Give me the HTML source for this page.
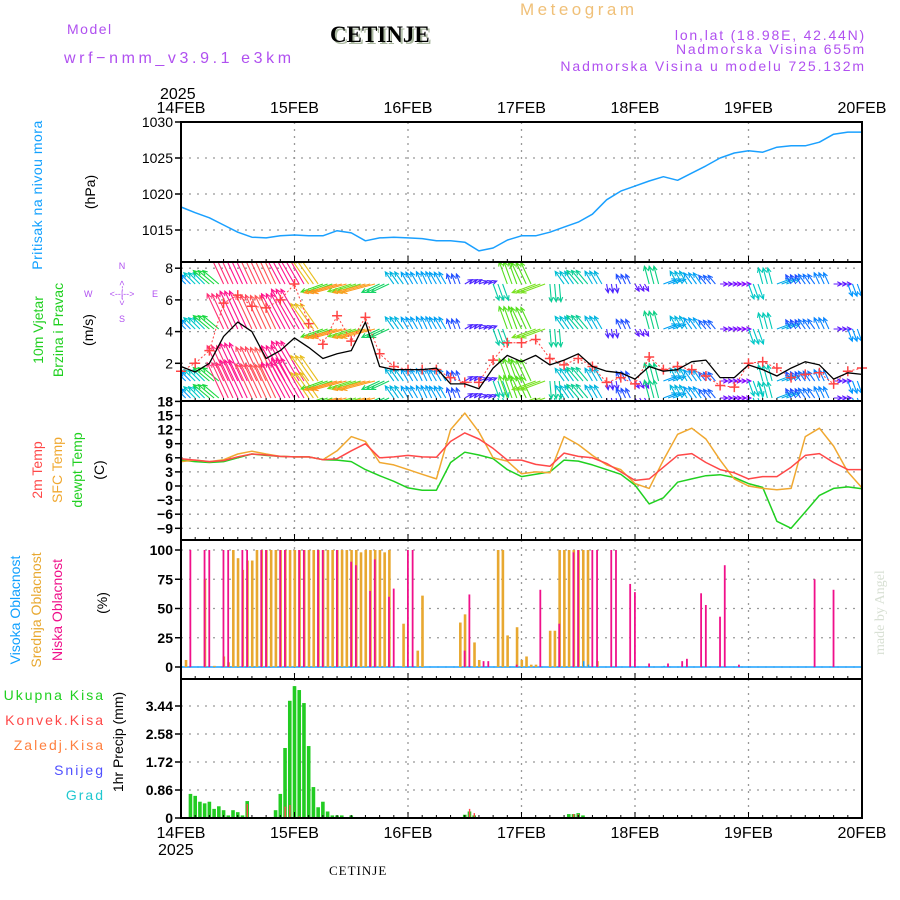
<!DOCTYPE html>
<html><head><meta charset="utf-8">
<style>
html,body{margin:0;padding:0;background:#fff;}
svg{display:block;font-family:"Liberation Sans",sans-serif;}
.tk{font-size:14px;fill:#000;}
.lab{font-size:14px;}
</style></head>
<body>
<svg id="chart" width="900" height="900" viewBox="0 0 900 900" xmlns="http://www.w3.org/2000/svg">
<defs>
<clipPath id="clipW"><rect x="181" y="262" width="681" height="139"/></clipPath>
</defs>
<!-- header -->
<text x="520" y="15" font-size="17" fill="#f0c078" letter-spacing="3.5">Meteogram</text>
<text x="67" y="34" font-size="14" fill="#b050f0" letter-spacing="1.5">Model</text>
<text x="64" y="63" font-size="16" fill="#b050f0" letter-spacing="3.6">wrf−nmm_v3.9.1 e3km</text>
<text x="332" y="44" font-size="23" font-weight="bold" fill="#aab8a0" font-family="Liberation Serif, serif">CETINJE</text>
<text x="330" y="42" font-size="23" font-weight="bold" fill="#000" font-family="Liberation Serif, serif">CETINJE</text>
<text x="866" y="40" font-size="14" fill="#b050f0" text-anchor="end" letter-spacing="1.8">lon,lat (18.98E, 42.44N)</text>
<text x="866" y="54" font-size="14" fill="#b050f0" text-anchor="end" letter-spacing="1.8">Nadmorska Visina 655m</text>
<text x="866" y="71" font-size="14" fill="#b050f0" text-anchor="end" letter-spacing="1.9">Nadmorska Visina u modelu 725.132m</text>
<text x="160" y="99" font-size="16" fill="#000">2025</text>
<text x="158" y="855" font-size="16" fill="#000">2025</text>
<text x="329" y="875" font-size="13" fill="#000" font-family="Liberation Serif, serif" letter-spacing="1">CETINJE</text>
<text transform="translate(884,655) rotate(-90)" font-size="14" fill="#d8e0d4" font-family="Liberation Serif, serif">made by Angel</text>

<!-- left labels -->
<text transform="translate(42,195) rotate(-90)" text-anchor="middle" class="lab" fill="#10a0ff" letter-spacing="0.5">Pritisak na nivou mora</text>
<text transform="translate(95,192) rotate(-90)" text-anchor="middle" class="lab" fill="#000">(hPa)</text>
<text transform="translate(43,330) rotate(-90)" text-anchor="middle" class="lab" fill="#20d020">10m Vjetar</text>
<text transform="translate(63,330) rotate(-90)" text-anchor="middle" class="lab" fill="#20d020">Brzina i Pravac</text>
<text transform="translate(93,330) rotate(-90)" text-anchor="middle" class="lab" fill="#000">(m/s)</text>
<g fill="#b050f0" font-size="9">
<text x="122" y="269" text-anchor="middle">N</text>
<text x="122" y="322" text-anchor="middle">S</text>
<text x="84" y="297">W</text>
<text x="152" y="297">E</text>
<text x="122" y="297" text-anchor="middle">&lt;--|--&gt;</text>
<text transform="translate(125,293) rotate(-90)" text-anchor="middle">&lt;--   --&gt;</text>
</g>
<text transform="translate(42,470) rotate(-90)" text-anchor="middle" class="lab" fill="#ff4848">2m Temp</text>
<text transform="translate(62,470) rotate(-90)" text-anchor="middle" class="lab" fill="#f0a830">SFC Temp</text>
<text transform="translate(82,470) rotate(-90)" text-anchor="middle" class="lab" fill="#20d020">dewpt Temp</text>
<text transform="translate(104,470) rotate(-90)" text-anchor="middle" class="lab" fill="#000">(C)</text>
<text transform="translate(20,610) rotate(-90)" text-anchor="middle" class="lab" fill="#10a0ff">Visoka Oblacnost</text>
<text transform="translate(41,610) rotate(-90)" text-anchor="middle" class="lab" fill="#e8a830">Srednja Oblacnost</text>
<text transform="translate(62,610) rotate(-90)" text-anchor="middle" class="lab" fill="#f0108a">Niska Oblacnost</text>
<text transform="translate(107,603) rotate(-90)" text-anchor="middle" class="lab" fill="#000">(%)</text>
<g font-size="14" text-anchor="end" letter-spacing="2">
<text x="105" y="700" fill="#20d020">Ukupna Kisa</text>
<text x="105" y="725" fill="#ff4848">Konvek.Kisa</text>
<text x="105" y="750" fill="#ff8040">Zaledj.Kisa</text>
<text x="105" y="775" fill="#5050ff">Snijeg</text>
<text x="105" y="800" fill="#20c8d0">Grad</text>
</g>
<text transform="translate(123,742) rotate(-90)" text-anchor="middle" class="lab" fill="#000">1hr Precip (mm)</text>
<g id="plot"></g>
</svg>
<script>
// ---------- data ----------
const dayLabels = ["14FEB","15FEB","16FEB","17FEB","18FEB","19FEB","20FEB"];
const pressure = [1018.2,1017.4,1016.7,1015.7,1014.7,1014.0,1013.9,1014.2,1014.3,1014.2,1014.2,1014.9,1014.6,1013.5,1013.9,1014.0,1013.9,1013.8,1013.5,1013.5,1013.3,1012.1,1012.5,1013.6,1014.2,1014.2,1014.7,1015.4,1016.1,1017.2,1019.2,1020.4,1021.1,1021.8,1022.4,1021.9,1022.9,1023.9,1025.0,1025.7,1026.0,1025.8,1026.5,1026.7,1026.7,1027.2,1028.3,1028.6,1028.6];
const t2m = [5.8,5.5,5.2,5.4,6.2,6.8,6.6,6.3,6.2,6.2,5.6,5.8,7.5,9.0,6.0,6.2,6.5,6.2,6.1,9.5,11.3,10.0,8.0,5.5,5.5,4.6,4.2,7.0,6.3,6.0,4.8,3.0,1.2,1.5,4.0,6.5,6.9,5.0,3.5,2.8,1.5,2.0,2.0,4.0,6.5,6.9,5.0,3.5,3.5];
const sfcT = [5.2,5.5,5.2,5.6,6.8,7.4,6.8,6.3,6.2,6.2,5.6,7.5,10.5,9.5,5.0,4.5,3.5,2.5,1.5,12.0,15.5,11.5,6.0,5.3,2.6,3.0,2.8,10.5,8.8,6.5,4.5,3.5,0.5,-0.5,5.5,11.0,12.3,10.0,5.5,1.5,0.0,-0.5,-0.8,-0.5,10.5,12.3,8.5,3.0,-0.4];
const dewT = [5.5,5.2,5.0,5.2,6.0,6.8,6.5,6.3,6.2,6.2,5.6,5.5,5.2,3.5,2.2,1.0,-0.4,-0.9,-0.9,5.0,7.2,6.6,5.8,3.5,2.0,2.5,3.0,5.5,5.3,4.5,3.5,2.5,0.2,-3.8,-2.5,0.8,1.5,2.2,2.4,1.8,0.5,-0.3,-7.5,-9.0,-5.5,-2.0,-0.5,-0.2,-0.6];
const windSpd = [1.8,1.45,2.0,3.7,4.6,4.0,2.3,2.8,3.6,3.0,2.3,2.6,2.8,4.6,1.8,1.6,1.6,1.6,1.7,0.7,0.7,0.4,1.7,2.5,2.1,2.5,1.9,2.2,2.6,1.8,1.5,1.4,1.0,1.8,1.5,1.6,2.1,2.2,1.1,1.1,1.9,1.6,1.2,1.7,2.1,1.9,1.0,1.4,1.3];
const windGust = [1.5,2.0,2.8,5.8,6.3,5.6,5.5,6.0,7.0,4.5,3.2,5.0,3.4,4.9,2.6,1.8,1.6,1.6,1.6,1.1,0.8,0.8,2.2,3.3,3.3,3.5,2.3,1.9,2.3,1.8,0.8,1.1,0.7,2.4,1.6,1.8,1.6,1.2,0.6,0.5,2.0,2.1,1.7,1.1,1.3,1.4,0.7,1.5,1.7];
const windDir = [135,135,140,115,115,115,115,118,120,125,200,195,198,195,205,125,120,115,120,110,30,20,-70,110,115,200,-85,125,130,120,-80,115,-60,105,20,120,125,130,0,0,-70,105,20,120,125,115,0,-70,110];
const midHours = [1,5,7,9,10,11,12,13,14,15,16,17,18,19,20,21,22,23,24,25,26,27,28,29,30,31,32,33,34,35,36,37,38,39,40,41,42,43,44,47,50,51,59,60,62,63,67,68,69,71,72,73,74,75,78,79,80,81,82,83,84,85,86,88];
const midVals = [6,75,1,9,4,100,93,83,91,91,100,100,100,100,100,100,100,100,100,100,100,100,100,100,100,100,100,100,100,100,100,100,98,100,100,100,100,98,100,37,14,61,38,45,21,6,100,100,27,34,6,9,2,2,31,31,100,100,100,100,100,100,100,5];
const lowHours = [2,5,6,9,10,13,14,17,18,21,22,25,26,29,30,33,36,37,40,41,44,45,48,49,60,61,64,65,71,76,80,83,84,87,88,91,92,95,96,99,103,106,107,110,111,114,115,118,134,138];
const lowVals = [100,100,100,100,100,100,100,100,100,100,100,100,100,100,100,100,90,87,65,92,60,67,100,100,14,62,5,5,2,66,37,98,100,100,100,100,100,71,64,3,3,5,7,63,53,43,87,2,75,66];
const highHours = [85,86,102];
const highVals = [5,2,1];
const rainHours = [2,3,4,5,6,7,8,9,10,11,12,13,14,20,21,22,23,24,25,26,27,28,29,30,31,32,33,34,36,60,61,62,82,83,84,85,137,138,139];
const rainVals = [0.74,0.68,0.5,0.45,0.5,0.28,0.36,0.24,0.08,0.24,0.18,0.08,0.52,0.24,0.74,2.15,3.6,4.05,3.93,3.53,2.21,0.95,0.33,0.5,0.2,0.08,0.08,0.08,0.08,0.1,0.2,0.08,0.12,0.12,0.15,0.08,0.03,0.03,0.03];
const convHours = [14,22,23,25,61,62,83,84];
const convVals = [0.43,0.35,0.4,0.05,0.28,0.15,0.12,0.12];
const pTicks = [1015,1020,1025,1030];
const wTicks = [2,4,6,8];
const tTicks = [-9,-6,-3,0,3,6,9,12,15,18];
const cTicks = [0,25,50,75,100];
const rTicks = [0,0.86,1.72,2.58,3.44];

// ---------- scales ----------
const X0 = 181, X1 = 862, HOURS = 144;
const xH = h => X0 + h * (X1 - X0) / HOURS;
const yP = p => 122 + (1030 - p) * 7.2;
const yW = v => 395 - v * 15.85;
const yT = t => 486 - t * 4.7;
const yC = c => 667 - c * 1.17;
const yR = v => 818 - v * 32.56;
const panels = [[122,262],[262,401],[401,540],[540,679],[679,818]];
const NS = "http://www.w3.org/2000/svg";
const plot = document.getElementById("plot");
function mk(tag, attrs, parent) {
  const e = document.createElementNS(NS, tag);
  for (const k in attrs) e.setAttribute(k, attrs[k]);
  (parent || plot).appendChild(e);
  return e;
}

panels.forEach((p, i) => {
  for (let d = 1; d < 6; d++) {
    const gl = mk("line", {x1: xH(d*24), x2: xH(d*24), y1: p[0], y2: p[1], stroke: "#999", "stroke-width": 1.3, "stroke-dasharray": "2,5"});
    
    
  }
});
function hgrid(ticks, f, label, fmt) {
  ticks.forEach(t => {
    const y = f(t);
    const g = mk("line", {x1: X0, x2: X1, y1: y, y2: y, stroke: "#999", "stroke-width": 1.3, "stroke-dasharray": "2,6"});
    
    
    const tk = mk("line", {x1: X0 - 6, x2: X0, y1: y, y2: y, stroke: "#000", "stroke-width": 1.5});
    
    
    const tx = mk("text", {x: X0 - 8, y: y + 5, "text-anchor": "end", class: "tk", "font-weight": label ? "bold" : "normal"});
    tx.textContent = fmt ? fmt(t) : String(t);
    
    
  });
}
hgrid(pTicks, yP, false);
hgrid(wTicks, yW, false);
hgrid(tTicks, yT, true, t => t < 0 ? "−" + Math.abs(t) : String(t));
hgrid(cTicks, yC, true);
hgrid(rTicks, yR, true);

dayLabels.forEach((d, i) => {
  const t1 = mk("text", {x: xH(i*24), y: 113, "text-anchor": "middle", "font-size": 16, fill: "#000"});
  t1.textContent = d;
  
  
  const t2 = mk("text", {x: xH(i*24), y: 838, "text-anchor": "middle", "font-size": 16, fill: "#000"});
  t2.textContent = d;
  
  
});

function line(vals, fy, color, name, w) {
  const pts = vals.map((v, k) => xH(k*3).toFixed(1) + "," + fy(v).toFixed(1)).join(" ");
  const pl = mk("polyline", {points: pts, fill: "none", stroke: color, "stroke-width": w || 1.4, "stroke-linejoin": "round"});
  
  
  return pl;
}
line(pressure, yP, "#1aa0ff", "pressure-line", 1.5);

const wg = mk("g", {"clip-path": "url(#clipW)"});


function gustColor(g) {
  const stops = [[0.5,[128,0,255]],[1.0,[40,60,255]],[1.5,[0,150,255]],[2.0,[0,200,200]],[3.0,[30,220,30]],[4.0,[210,230,30]],[5.0,[255,150,30]],[6.0,[255,20,140]]];
  if (g <= stops[0][0]) return "rgb(" + stops[0][1] + ")";
  for (let i = 1; i < stops.length; i++) {
    if (g <= stops[i][0]) {
      const a = stops[i-1], b = stops[i], f = (g - a[0]) / (b[0] - a[0]);
      return "rgb(" + a[1].map((c, j) => Math.round(c + (b[1][j] - c) * f)).join(",") + ")";
    }
  }
  return "rgb(255,20,140)";
}
const rows = [284, 329, 381, 398];
for (let h = 0; h < HOURS; h++) {
  const k = Math.floor(h / 3);
  const g = windGust[k], ang = windDir[k] * Math.PI / 180, len = 4 + g * 6;
  const col = gustColor(g);
  rows.forEach(by => {
    const bx = xH(h);
    const tx = bx + Math.cos(ang) * len, ty = by - Math.sin(ang) * len;
    const hx1 = tx - Math.cos(ang - 0.45) * 5, hy1 = ty + Math.sin(ang - 0.45) * 5;
    const hx2 = tx - Math.cos(ang + 0.45) * 5, hy2 = ty + Math.sin(ang + 0.45) * 5;
    const a = mk("path", {d: `M${bx.toFixed(1)},${by} L${tx.toFixed(1)},${ty.toFixed(1)} M${hx1.toFixed(1)},${hy1.toFixed(1)} L${tx.toFixed(1)},${ty.toFixed(1)} L${hx2.toFixed(1)},${hy2.toFixed(1)}`, stroke: col, "stroke-width": 1.1, fill: "none"}, wg);
    
    
  });
}
const gl = line(windGust, yW, "#ff4444", "gust-line", 1);
gl.setAttribute("stroke-dasharray", "2,2");
windGust.forEach((v, k) => {
  const x = xH(k*3), y = yW(v);
  const c = mk("path", {d: `M${x-5},${y} L${x+5},${y} M${x},${y-5} L${x},${y+5}`, stroke: "#ff4444", "stroke-width": 1.5});
  
  
});
line(windSpd, yW, "#000", "wind-speed-line", 1.3);

line(dewT, yT, "#20d020", "dewpoint-line", 1.5);
line(sfcT, yT, "#f0a830", "sfc-temp-line", 1.5);
line(t2m, yT, "#ff4848", "t2m-line", 1.5);

const hb = mk("line", {x1: X0, x2: X1, y1: yC(0), y2: yC(0), stroke: "#1aa0ff", "stroke-width": 1.5});


midHours.forEach((h, i) => {
  const x = xH(h), y = yC(midVals[i]);
  const b = mk("rect", {x: x - 1, y: y, width: 2.6, height: yC(0) - y, fill: "#e8a830"});
  
  
});
lowHours.forEach((h, i) => {
  const x = xH(h), y = yC(lowVals[i]);
  const b = mk("rect", {x: x - 1, y: y, width: 1.8, height: yC(0) - y, fill: "#f0108a"});
  
  
});
highHours.forEach((h, i) => {
  const x = xH(h), y = yC(highVals[i]);
  const b = mk("rect", {x: x, y: y, width: 1.5, height: yC(0) - y, fill: "#1aa0ff"});
  
  
});

rainHours.forEach((h, i) => {
  const x = xH(h), y = yR(rainVals[i]);
  const b = mk("rect", {x: x - 1.8, y: y, width: 3.6, height: yR(0) - y, fill: "#22cc22"});
  
  
});
convHours.forEach((h, i) => {
  const x = xH(h), y = yR(convVals[i]);
  const b = mk("rect", {x: x - 0.6, y: y, width: 1.4, height: yR(0) - y, fill: "#ff4848"});
  
  
});

panels.forEach((p, i) => {
  const r = mk("rect", {x: X0, y: p[0], width: X1 - X0, height: p[1] - p[0], fill: "none", stroke: "#000", "stroke-width": 2});
  
  
  for (let h = 0; h <= HOURS; h += 3) {
    const len = h % 24 === 0 ? 6 : 3;
    const t = mk("line", {x1: xH(h), x2: xH(h), y1: p[1], y2: p[1] - len, stroke: "#000", "stroke-width": 1});
    
    
  }
});
</script>
</body></html>
